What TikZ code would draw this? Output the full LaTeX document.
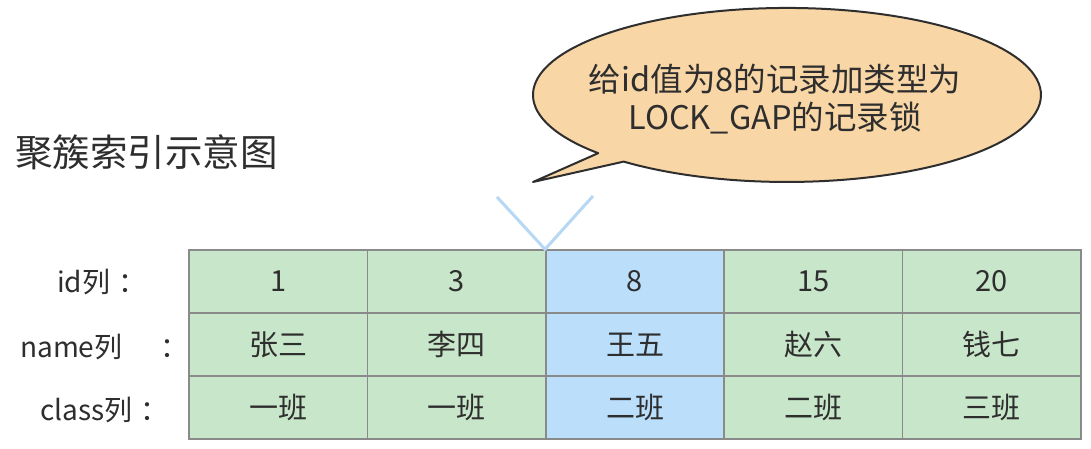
\documentclass[tikz,border=0pt]{standalone}
\usepackage{fontspec}
\setmainfont{Noto Sans CJK SC}
\definecolor{txt}{HTML}{2E2E2E}
\definecolor{cellgreen}{HTML}{C8E6C9}
\definecolor{cellblue}{HTML}{BBDEFB}
\definecolor{cellline}{HTML}{8A8A8A}
\definecolor{bubble}{HTML}{F9D6A6}
\definecolor{vmark}{HTML}{B7D8F5}
\begin{document}
\begin{tikzpicture}[x=1pt,y=-1pt,
  cell/.style={draw=cellline,line width=1.5pt,minimum width=178.4pt,minimum height=63pt,inner sep=0pt,text=txt,font=\fontsize{29}{34}\selectfont},
  gcell/.style={cell,fill=cellgreen},
  bcell/.style={cell,fill=cellblue},
  rowlabel/.style={anchor=west,text=txt,font=\fontsize{28}{34}\selectfont,inner sep=0pt}]
\useasboundingbox (0,0) rectangle (1091,449);
\fill[white] (0,0) rectangle (1091,449);
% title
\node[anchor=west,text=txt,font=\fontsize{37.5}{44}\selectfont,inner sep=0pt] (title) at (15,152) {聚簇索引示意图};
% callout
\draw[fill=bubble,draw=txt,line width=2pt,line join=round]
  (623.7,161.6) arc[start angle=130,end angle=-222,x radius=254,y radius=87]
  -- (533,182) -- cycle;
\node[align=center,text=txt,font=\fontsize{32.5}{38}\selectfont,inner sep=0pt] (note) at (775,99) {给id值为8的记录加类型为\\LOCK\_GAP的记录锁};
% table
\foreach \v/\n/\c [count=\i] in {1/张三/一班,3/李四/一班,8/王五/二班,15/赵六/二班,20/钱七/三班}{
  \pgfmathsetmacro{\xx}{189+178.4*(\i-0.5)}
  \ifnum\i=3 \def\st{bcell}\else\def\st{gcell}\fi
  \node[\st] (id\i) at (\xx,281.5) {\v};
  \node[\st] (name\i) at (\xx,344.5) {\n};
  \node[\st] (cls\i) at (\xx,407.5) {\c};
}
% V mark
\coordinate (vl) at (497,197);
\coordinate (vr) at (593,196);
\coordinate (vb) at (id3.north west);
\draw[vmark,line width=3pt] (vl) -- (vb) -- (vr);
% row labels
\node[rowlabel] (lid) at (57,282) {id列\hspace{8pt}：};
\node[rowlabel] (lname) at (20,347) {name列\hspace{38pt}：};
\node[rowlabel] (lcls) at (40,410) {class列\hspace{8pt}：};
\end{tikzpicture}
\end{document}
